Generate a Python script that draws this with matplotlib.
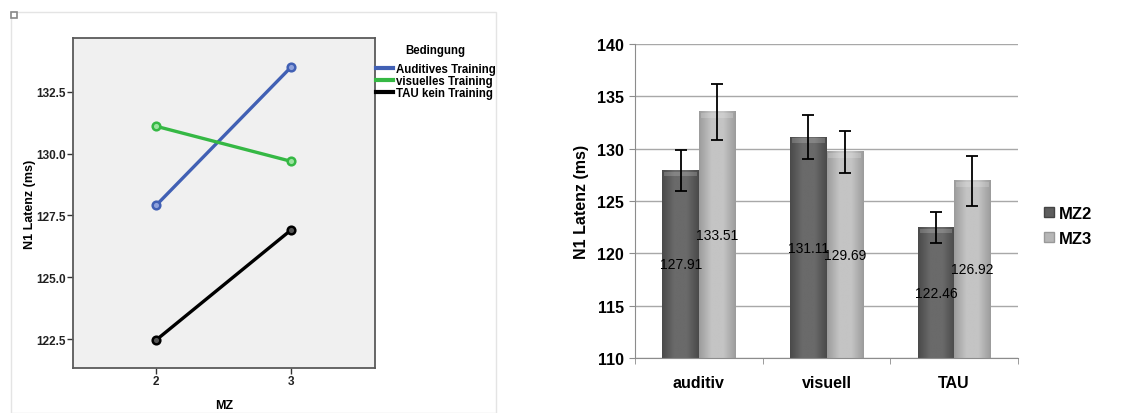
import numpy as np
import matplotlib.pyplot as plt
from matplotlib.colors import LinearSegmentedColormap
from matplotlib.patches import Rectangle, Patch

plt.rcParams['font.family'] = ['Liberation Sans', 'DejaVu Sans']

# Data
mz_levels = [2, 3]
conditions = ['Auditives Training', 'visuelles Training', 'TAU kein Training']
line_colors = ['#4160b4', '#35b844', '#000000']
marker_faces = ['#8fa2dc', '#9be39f', '#555555']

categories = ['auditiv', 'visuell', 'TAU']
mz2 = [127.91, 131.11, 122.46]
mz3 = [133.51, 129.69, 126.92]
mz2_err = [1.93, 2.07, 1.48]
mz3_err = [2.65, 2.02, 2.35]

fig = plt.figure(figsize=(11.39, 4.14), dpi=100)
W, H = 1139, 414

# frame around the left (SPSS) panel
fig.patches.append(Rectangle((11 / W, 0), (496 - 11) / W, 1 - 13 / H,
                             transform=fig.transFigure, fill=False,
                             edgecolor='#e4e4e4', linewidth=1))
fig.patches.append(Rectangle((11 / W, 1 - 19 / H), 6 / W, 6 / H,
                             transform=fig.transFigure, facecolor='white',
                             edgecolor='#888888', linewidth=1.2))

# ---- left: interaction plot
ax1 = fig.add_axes([73 / W, 1 - 369 / H, (375 - 73) / W, (369 - 39) / H])
ax1.set_facecolor('#f0f0f0')
series = [list(p) for p in zip(mz2, mz3)]
for vals, c, mf, lab in zip(series, line_colors, marker_faces, conditions):
    ax1.plot(mz_levels, vals, color=c, linewidth=2.4, marker='o', markersize=5.5,
             markeredgewidth=1.8, markerfacecolor=mf, markeredgecolor=c, label=lab)
ax1.set_xlim(1.385, 3.62)
ax1.set_ylim(121.33, 134.68)
ax1.set_xticks(mz_levels)
ax1.set_yticks([122.5, 125.0, 127.5, 130.0, 132.5])
ax1.set_yticklabels(['122.5', '125.0', '127.5', '130.0', '132.5'])
for s in ax1.spines.values():
    s.set_color('#5a5a5a')
    s.set_linewidth(1.3)
ax1.tick_params(direction='out', length=4, width=1, color='#333333',
                labelsize=8.5, pad=1)
for t in ax1.get_xticklabels() + ax1.get_yticklabels():
    t.set_fontweight('bold')
    t.set_color('#222222')
ax1.set_xlabel('MZ', fontsize=9, fontweight='bold', labelpad=9)
ax1.set_ylabel('N1 Latenz (ms)', fontsize=9, fontweight='bold', labelpad=0)

leg1 = fig.legend(*ax1.get_legend_handles_labels(), loc='upper left',
                  bbox_to_anchor=(376 / W, 1 - 45 / H), frameon=False,
                  title='Bedingung', fontsize=8.3, title_fontsize=8.3,
                  handlelength=1.5, handletextpad=0.2, labelspacing=0.0,
                  borderpad=0, borderaxespad=0)
leg1.get_title().set_fontweight('bold')
leg1._legend_box.sep = 5
for t in leg1.get_texts():
    t.set_fontweight('bold')
for h in leg1.legend_handles:
    h.set_marker('')
    h.set_linewidth(3)

# ---- right: bar chart
ax2 = fig.add_axes([635 / W, 1 - 359 / H, (1018 - 635) / W, (359 - 45) / H])
ax2.set_xlim(-0.5, 2.5)
ax2.set_ylim(110, 140)
x = np.arange(len(categories))
bw = 0.285
bars2 = ax2.bar(x - bw / 2, mz2, bw, color='#5e5e5e', zorder=2)
bars3 = ax2.bar(x + bw / 2, mz3, bw, color='#b6b6b6', zorder=2)


def shade(bars, dark, light):
    cmap = LinearSegmentedColormap.from_list('g', [dark, light, light, dark])
    grad = np.linspace(0, 1, 64).reshape(1, -1)
    y0 = ax2.get_ylim()[0]
    for b in bars:
        x0, w, h = b.get_x(), b.get_width(), b.get_height()
        ax2.imshow(grad, cmap=cmap, extent=[x0, x0 + w, y0, h],
                   aspect='auto', zorder=2.1, interpolation='bilinear')
        # light bevel on top of the bar
        ax2.add_patch(Rectangle((x0 + w * 0.05, h - 0.55), w * 0.9, 0.45,
                                facecolor='white', alpha=0.18, edgecolor='none',
                                zorder=2.2))


shade(bars2, '#4a4a4a', '#6a6a6a')
shade(bars3, '#9c9c9c', '#c4c4c4')
ax2.set_xlim(-0.5, 2.5)
ax2.set_ylim(110, 140)

ax2.errorbar(x - bw / 2, mz2, yerr=mz2_err, fmt='none', ecolor='black',
             elinewidth=1.3, capsize=4, capthick=1.3, zorder=4)
ax2.errorbar(x + bw / 2, mz3, yerr=mz3_err, fmt='none', ecolor='black',
             elinewidth=1.3, capsize=4, capthick=1.3, zorder=4)

for bars, vals in ((bars2, mz2), (bars3, mz3)):
    for b, v in zip(bars, vals):
        ax2.text(b.get_x() + b.get_width() / 2, (110 + v) / 2, f'{v:.2f}',
                 ha='center', va='center', fontsize=10, color='black', zorder=5)

ax2.set_yticks(range(110, 141, 5))
ax2.yaxis.grid(True, color='#a8a8a8', linewidth=1, zorder=0)
ax2.set_axisbelow(True)
ax2.set_xticks(x)
ax2.set_xticklabels(categories)
ax2.set_xticks([-0.5, 0.5, 1.5, 2.5], minor=True)
ax2.tick_params(axis='x', which='major', length=0, labelsize=11.5, pad=12)
ax2.tick_params(axis='x', which='minor', length=4, color='#8c8c8c', direction='out')
ax2.tick_params(axis='y', length=4, color='#8c8c8c', direction='out',
                labelsize=11.5, pad=4)
for t in ax2.get_xticklabels() + ax2.get_yticklabels():
    t.set_fontweight('bold')
for side in ('top', 'right'):
    ax2.spines[side].set_visible(False)
for side in ('left', 'bottom'):
    ax2.spines[side].set_color('#8c8c8c')
ax2.set_ylabel('N1 Latenz (ms)', fontsize=11.5, fontweight='bold', labelpad=6)

handles = [Patch(facecolor='#5e5e5e', edgecolor='#444444'),
           Patch(facecolor='#b6b6b6', edgecolor='#999999')]
leg2 = fig.legend(handles, ['MZ2', 'MZ3'], loc='center left',
                  bbox_to_anchor=(1036 / W, 1 - 227 / H), frameon=False,
                  fontsize=12, handlelength=0.6, handleheight=0.6,
                  handletextpad=0.3, labelspacing=0.6, borderpad=0)
for t in leg2.get_texts():
    t.set_fontweight('bold')

fig.savefig('out.png', dpi=100)
